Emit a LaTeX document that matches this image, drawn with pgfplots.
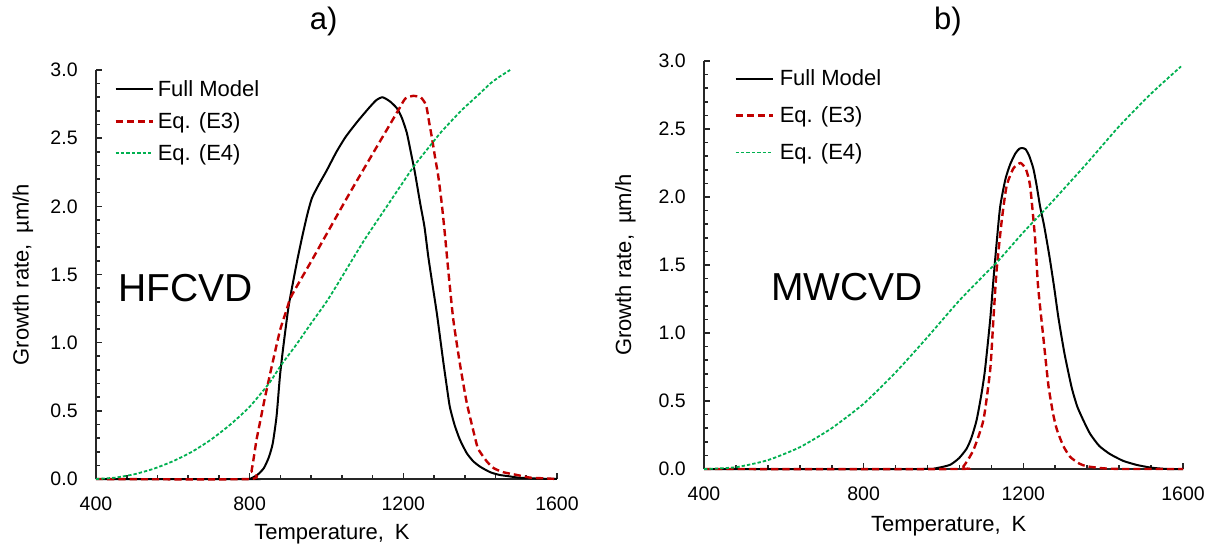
\documentclass[border=0pt]{standalone}
\usepackage{pgfplots}
\pgfplotsset{compat=1.18}
\usepackage{fontspec}
\setmainfont{Liberation Sans}

\definecolor{eqred}{RGB}{192,0,0}
\definecolor{eqgreen}{RGB}{0,176,80}

\newcommand{\fs}[1]{\fontsize{#1}{1.2\dimexpr#1\relax}\selectfont}

\pgfplotsset{
  growth/.style={
    scale only axis,
    axis lines*=left,
    axis line style={line width=1bp, black!85},
    xmin=400, xmax=1600, ymin=0, ymax=3,
    xtick={400,800,1200,1600},
    ytick={0,0.5,1,1.5,2,2.5,3},
    minor x tick num=4,
    minor y tick num=4,
    tick align=inside,
    major tick length=3bp,
    minor tick length=2.2bp,
    tick style={line width=0.8bp, black!85},
    /pgf/number format/assume math mode=true,
    xticklabel style={/pgf/number format/1000 sep={}, anchor=north, inner sep=0pt, yshift=-8.85bp, font=\fs{9.75bp}},
    yticklabel style={/pgf/number format/fixed, /pgf/number format/fixed zerofill, /pgf/number format/precision=1, anchor=east, inner sep=0pt, xshift=-9bp, font=\fs{9.75bp}},
    xlabel={Temperature,\enspace K},
    ylabel={Growth rate,\enspace µm/h},
    legend cell align=left,
    legend image code/.code={\draw[##1] (0bp,0bp) -- (18.5bp,0bp);},
    clip=false,
  },
  fullmodel/.style={black, line width=1bp, smooth, tension=0.35},
  eqthree/.style={eqred, line width=1.2bp, dash pattern=on 3.6bp off 2bp, smooth, tension=0.35},
  eqfour/.style={eqgreen, line width=0.9bp, dash pattern=on 1.7bp off 1bp, smooth, tension=0.35},
}

\begin{document}
\begin{tikzpicture}
\useasboundingbox (0,0) rectangle (606.5bp,274bp);

% ---------------- a) HFCVD
\begin{axis}[growth,
  at={(48bp,34.5bp)}, anchor=south west,
  width=230.5bp, height=204.5bp,
  title={a)},
  every axis title/.style={at={(axis description cs:0.494,1.0995)}, anchor=base, inner sep=0pt, font=\fs{15.5bp}},
  every axis x label/.style={at={(axis description cs:0.512,-0.149)}, anchor=base, inner sep=0pt, font=\fs{11bp}},
  every axis y label/.style={at={(axis description cs:-0.1464,0.5)}, rotate=90, anchor=base, inner sep=0pt, font=\fs{11bp}},
  legend style={draw=none, fill=none, at={(axis description cs:0.039,0.9756)}, anchor=north west,
    inner sep=0pt, row sep=7bp, column sep=2bp, font=\fs{11bp},
    nodes={inner sep=0pt, text height=8bp, text depth=1bp}},
]
\addplot[fullmodel] coordinates {
  (400,0) (790,0) (800,0) (820,0.03) (837,0.08) (850,0.16) (860,0.26)
  (870,0.46) (879,0.76) (888,0.98) (901,1.26) (914,1.46) (925,1.62)
  (937,1.78) (950,1.94) (962,2.06) (980,2.16) (1000,2.26) (1026,2.40)
  (1050,2.51) (1080,2.62) (1110,2.72) (1130,2.78) (1146,2.80) (1165,2.77)
  (1183,2.72) (1196,2.65) (1209,2.54) (1220,2.39) (1230,2.25) (1244,2.02)
  (1255,1.85) (1265,1.63) (1274,1.46) (1287,1.22) (1296,1.03) (1304,0.86)
  (1313,0.68) (1321,0.53) (1333,0.40) (1347,0.29) (1365,0.19) (1382,0.13)
  (1400,0.09) (1426,0.05) (1450,0.03) (1475,0.02) (1500,0.01) (1550,0.003)
  (1600,0)
};
\addlegendentry{Full Model}
\addplot[eqthree] coordinates {
  (400,0) (800,0) (805,0.06) (812,0.18) (818,0.29) (830,0.46) (840,0.60)
  (857,0.82) (879,1.09) (896,1.24) (905,1.32) (918,1.39) (965,1.62)
  (1061,2.10) (1165,2.60) (1190,2.72) (1205,2.79) (1225,2.81) (1245,2.80)
  (1256,2.76) (1261,2.72) (1267,2.62) (1274,2.51) (1282,2.37) (1291,2.22)
  (1300,2.02) (1308,1.80) (1317,1.53) (1330,1.17) (1347,0.85) (1365,0.56)
  (1386,0.31) (1395,0.22) (1417,0.13) (1435,0.08) (1460,0.05) (1495,0.03)
  (1530,0.01) (1565,0.005) (1600,0)
};
\addlegendentry{Eq. (E3)}
\addplot[eqfour] coordinates {
  (400,0) (450,0.01) (500,0.035) (550,0.075) (600,0.13) (650,0.20)
  (700,0.29) (750,0.40) (800,0.53) (850,0.70) (883,0.84) (920,0.98)
  (957,1.13) (1000,1.30) (1031,1.44) (1061,1.58) (1100,1.76) (1150,1.97)
  (1200,2.18) (1229,2.30) (1274,2.46) (1300,2.55) (1350,2.70) (1400,2.83)
  (1426,2.90) (1450,2.95) (1478,3.0)
};
\addlegendentry{Eq. (E4)}
\node[anchor=west, inner sep=0pt, font=\fs{19.5bp}] at (axis cs:457,1.40) {HFCVD};
\end{axis}

% ---------------- b) MWCVD
\begin{axis}[growth,
  at={(352bp,39.5bp)}, anchor=south west,
  width=239.5bp, height=204bp,
  title={b)},
  every axis title/.style={at={(axis description cs:0.509,1.077)}, anchor=base, inner sep=0pt, font=\fs{15.5bp}},
  every axis x label/.style={at={(axis description cs:0.511,-0.154)}, anchor=base, inner sep=0pt, font=\fs{11bp}},
  every axis y label/.style={at={(axis description cs:-0.152,0.5)}, rotate=90, anchor=base, inner sep=0pt, font=\fs{11bp}},
  legend style={draw=none, fill=none, at={(axis description cs:0.0626,0.980)}, anchor=north west,
    inner sep=0pt, row sep=9.5bp, column sep=3bp, font=\fs{11bp},
    nodes={inner sep=0pt, text height=8bp, text depth=1bp}},
]
\addplot[fullmodel] coordinates {
  (400,0) (950,0) (980,0.005) (1016,0.03) (1039,0.08) (1058,0.15)
  (1070,0.23) (1083,0.36) (1095,0.55) (1104,0.73) (1117,1.10) (1125,1.39)
  (1133,1.66) (1142,1.93) (1155,2.13) (1167,2.24) (1180,2.32) (1190,2.355)
  (1198,2.36) (1206,2.35) (1215,2.30) (1225,2.21) (1233,2.09) (1242,1.93)
  (1252,1.79) (1265,1.57) (1277,1.34) (1288,1.11) (1303,0.85) (1321,0.60)
  (1335,0.46) (1350,0.36) (1367,0.26) (1390,0.17) (1417,0.11) (1450,0.06)
  (1484,0.03) (1520,0.01) (1560,0) (1600,0)
};
\addlegendentry{Full Model}
\addplot[eqthree] coordinates {
  (400,0) (1030,0) (1050,0.02) (1075,0.14) (1100,0.36) (1117,0.73)
  (1125,1.10) (1133,1.46) (1146,1.83) (1158,2.08) (1175,2.21) (1193,2.25)
  (1207,2.20) (1217,2.08) (1229,1.71) (1237,1.34) (1250,0.97) (1263,0.61)
  (1275,0.40) (1284,0.29) (1300,0.17) (1317,0.09) (1340,0.04) (1359,0.02)
  (1400,0.005) (1450,0) (1600,0)
};
\addlegendentry{Eq. (E3)}
\addplot[eqfour] coordinates {
  (400,0) (480,0.013) (560,0.065) (640,0.16) (720,0.30) (800,0.48)
  (880,0.71) (960,0.97) (1040,1.24) (1120,1.48) (1137,1.53) (1200,1.74)
  (1242,1.87) (1280,1.99) (1360,2.25) (1440,2.52) (1520,2.76) (1595,2.96)
};
\addlegendentry{Eq. (E4)}
\node[anchor=west, inner sep=0pt, font=\fs{19.5bp}] at (axis cs:568,1.338) {MWCVD};
\end{axis}
\end{tikzpicture}
\end{document}
